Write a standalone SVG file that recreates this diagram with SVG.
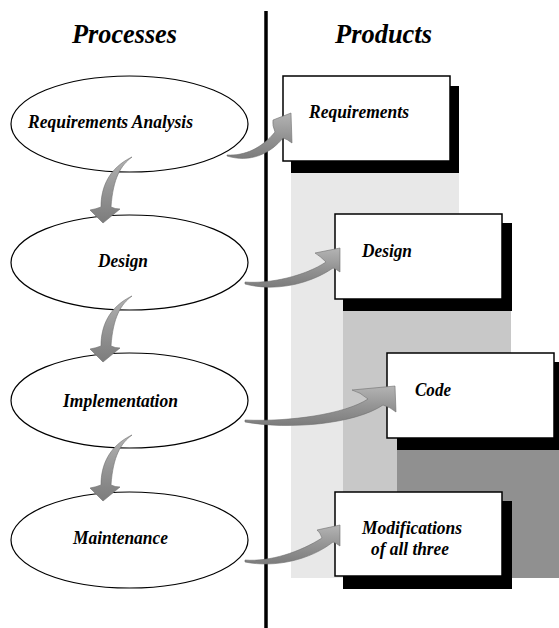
<svg xmlns="http://www.w3.org/2000/svg" xmlns:xlink="http://www.w3.org/1999/xlink" width="559" height="628" viewBox="0 0 559 628">
  <style>
    text { font-family: "Liberation Serif", "Times New Roman", serif; font-weight: bold; font-style: italic; fill: #000; }
    .title { font-size: 28px; }
    .label { font-size: 19px; }
    .proc { fill: #fff; stroke: #000; stroke-width: 1.2; }
    .box { fill: #fff; stroke: #000; stroke-width: 1.5; }
    .shadow { fill: #000; }
    .arrow { fill: url(#arrowShade); stroke: #6e6e6e; stroke-width: 0.6; }
  </style>
  <defs>
    <linearGradient id="arrowShade" x1="0" y1="0" x2="0" y2="1">
      <stop offset="0" stop-color="#b4b4b4"/>
      <stop offset="0.5" stop-color="#959595"/>
      <stop offset="1" stop-color="#7c7c7c"/>
    </linearGradient>
    <!-- curved downward arrow, tip at origin -->
    <path id="downArrow" d="M29,-66 C18,-58 10,-45 8,-16 Q12,-14 17,-14 L0,0 L-13,-13 Q-7,-14 -2,-16 C-2,-36 6,-55 29,-66 Z"/>
  </defs>

  <rect width="559" height="628" fill="#fff"/>

  <!-- stepped background bands -->
  <g id="bands">
    <rect x="291" y="161" width="168" height="417" fill="#e8e8e8"/>
    <rect x="343" y="300" width="168" height="278" fill="#c8c8c8"/>
    <rect x="397" y="438" width="162" height="140" fill="#909090"/>
  </g>

  <!-- column divider -->
  <line x1="266" y1="11" x2="266" y2="628" stroke="#000" stroke-width="3.5"/>

  <text class="title" x="124.5" y="43" text-anchor="middle" textLength="105" lengthAdjust="spacingAndGlyphs">Processes</text>
  <text class="title" x="383.5" y="43" text-anchor="middle" textLength="97" lengthAdjust="spacingAndGlyphs">Products</text>

  <!-- process nodes -->
  <g id="proc-requirements">
    <ellipse class="proc" cx="129.5" cy="124" rx="118.5" ry="48"/>
    <text class="label" x="110.5" y="128" text-anchor="middle" textLength="165" lengthAdjust="spacingAndGlyphs">Requirements Analysis</text>
  </g>
  <g id="proc-design">
    <ellipse class="proc" cx="129.5" cy="262.5" rx="118.5" ry="47.5"/>
    <text class="label" x="123" y="267" text-anchor="middle" textLength="50" lengthAdjust="spacingAndGlyphs">Design</text>
  </g>
  <g id="proc-implementation">
    <ellipse class="proc" cx="129.5" cy="400.5" rx="118.5" ry="47.5"/>
    <text class="label" x="120.5" y="407" text-anchor="middle" textLength="115" lengthAdjust="spacingAndGlyphs">Implementation</text>
  </g>
  <g id="proc-maintenance">
    <ellipse class="proc" cx="129.5" cy="540" rx="118.5" ry="48"/>
    <text class="label" x="120.5" y="544" text-anchor="middle" textLength="95" lengthAdjust="spacingAndGlyphs">Maintenance</text>
  </g>

  <!-- product nodes -->
  <g id="prod-requirements">
    <rect class="shadow" x="291" y="86" width="168" height="87"/>
    <rect class="box" x="283" y="76" width="167" height="85"/>
    <text class="label" x="359" y="118" text-anchor="middle" textLength="100" lengthAdjust="spacingAndGlyphs">Requirements</text>
  </g>
  <g id="prod-design">
    <rect class="shadow" x="343" y="223" width="169" height="88"/>
    <rect class="box" x="335" y="214" width="167" height="85"/>
    <text class="label" x="387" y="257" text-anchor="middle" textLength="50" lengthAdjust="spacingAndGlyphs">Design</text>
  </g>
  <g id="prod-code">
    <rect class="shadow" x="397" y="362" width="166" height="88"/>
    <rect class="box" x="387" y="353" width="167" height="85"/>
    <text class="label" x="433" y="396" text-anchor="middle" textLength="36" lengthAdjust="spacingAndGlyphs">Code</text>
  </g>
  <g id="prod-modifications">
    <rect class="shadow" x="343" y="501" width="169" height="88"/>
    <rect class="box" x="335" y="492" width="167" height="84"/>
    <text class="label" x="412" y="534" text-anchor="middle" textLength="100" lengthAdjust="spacingAndGlyphs">Modifications</text>
    <text class="label" x="410" y="555" text-anchor="middle" textLength="78" lengthAdjust="spacingAndGlyphs">of all three</text>
  </g>

  <!-- connectors -->
  <g id="connectors">
    <use xlink:href="#downArrow" class="arrow" transform="translate(103,223)"/>
    <use xlink:href="#downArrow" class="arrow" transform="translate(103,362)"/>
    <use xlink:href="#downArrow" class="arrow" transform="translate(103,501)"/>

    <path class="arrow" d="M227,155 C245,156 262,148 275,132 Q272,125 273,120 L291,113 L292,143 Q287,139 283,138 C270,154 250,163 227,156 Z"/>
    <path class="arrow" d="M245,282 C270,284 305,276 326,262 Q320,256 315,253 L340,248 L340,272 Q336,269 333,268 C310,284 275,292 245,284 Z"/>
    <path class="arrow" d="M245,420 C290,422 345,414 368,399 Q360,392 352,390 L395,386 L396,412 Q390,407 383,405 C355,424 290,430 245,422 Z"/>
    <path class="arrow" d="M245,560 C270,562 300,552 322,538 Q320,532 317,530 L340,525 L340,546 Q336,543 333,542 C310,560 275,568 245,562 Z"/>
  </g>
</svg>
